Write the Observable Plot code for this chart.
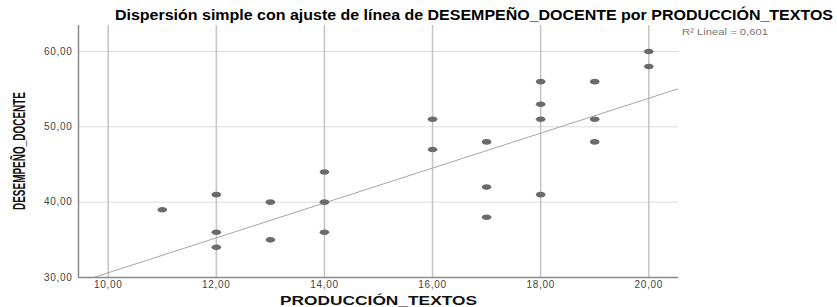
<!DOCTYPE html>
<html>
<head>
<meta charset="utf-8">
<script src="https://cdn.jsdelivr.net/npm/d3@7"></script>
<script src="https://cdn.jsdelivr.net/npm/@observablehq/plot@0.6"></script>
<style>
  html, body { margin: 0; padding: 0; background: #fff; }
</style>
</head>
<body>
<div id="chart"></div>
<script>
// Data
const produccionTextos = [11, 12, 12, 12, 13, 13, 14, 14, 14, 16, 16, 17, 17, 17, 18, 18, 18, 18, 19, 19, 19, 20, 20];
const desempenoDocente = [39, 41, 36, 34, 40, 35, 44, 40, 36, 51, 47, 48, 42, 38, 56, 53, 51, 41, 56, 51, 48, 60, 58];
const xTicks = [10, 12, 14, 16, 18, 20];
const yTicks = [30, 40, 50, 60];
const xDomain = [9.45, 20.55];
const yDomain = [30, 63.45];
// Fit line (R² Lineal = 0,601)
const fitIntercept = 7.47;
const fitSlope = 2.316;
const r2Label = "R² Lineal = 0,601";
const titleText = "Dispersión simple con ajuste de línea de DESEMPEÑO_DOCENTE por PRODUCCIÓN_TEXTOS";
const xLabel = "PRODUCCIÓN_TEXTOS";
const yLabel = "DESEMPEÑO_DOCENTE";

const points = produccionTextos.map((x, i) => ({x, y: desempenoDocente[i]}));
const fitLine = xDomain.map(x => ({x, y: fitIntercept + fitSlope * x}));
const fmt = d => d3.format(".2f")(d).replace(".", ",");

const ellipse = {
  draw(ctx) {
    const rx = 4.8, ry = 2.8, k = 0.5523;
    ctx.moveTo(rx, 0);
    ctx.bezierCurveTo(rx, ry * k, rx * k, ry, 0, ry);
    ctx.bezierCurveTo(-rx * k, ry, -rx, ry * k, -rx, 0);
    ctx.bezierCurveTo(-rx, -ry * k, -rx * k, -ry, 0, -ry);
    ctx.bezierCurveTo(rx * k, -ry, rx, -ry * k, rx, 0);
    ctx.closePath();
  }
};

const chart = Plot.plot({
  width: 837,
  height: 307,
  marginLeft: 78,
  marginRight: 159,
  marginTop: 25,
  marginBottom: 30,
  style: {fontFamily: "'Liberation Sans', Arial, sans-serif", background: "#fff"},
  x: {domain: xDomain, label: null},
  y: {domain: yDomain, label: null},
  marks: [
    Plot.gridY(yTicks.filter(d => d > yDomain[0]), {stroke: "#dcdcdc", strokeOpacity: 1, strokeWidth: 1}),
    Plot.gridX(xTicks, {stroke: "#c6c6c6", strokeOpacity: 1, strokeWidth: 1.6}),
    Plot.ruleX([xDomain[0]], {stroke: "#8a8a8a", strokeWidth: 1.5}),
    Plot.ruleY([yDomain[0]], {stroke: "#8a8a8a", strokeWidth: 1.5}),
    Plot.line(fitLine, {x: "x", y: "y", stroke: "#a6a6a6", strokeWidth: 1, clip: true}),
    Plot.dot(points, {x: "x", y: "y", symbol: ellipse, fill: "#6b6b6b", stroke: "none", r: 3}),
    Plot.axisX(xTicks, {tickSize: 0, tickPadding: 3, tickFormat: fmt, fontSize: 10, fill: "#444", label: null}),
    Plot.axisY(yTicks, {tickSize: 0, tickPadding: 6, tickFormat: fmt, fontSize: 10, fill: "#444", label: null})
  ]
});
document.getElementById("chart").appendChild(chart);

const svg = d3.select(chart);
svg.selectAll('[aria-label$="tick label"] text').attr("letter-spacing", "0.7px");
svg.append("text")
  .attr("x", 115).attr("y", 20)
  .attr("text-anchor", "start")
  .attr("textLength", 718).attr("lengthAdjust", "spacingAndGlyphs")
  .style("font", "bold 14px 'Liberation Sans', Arial, sans-serif")
  .attr("fill", "#000")
  .text(titleText);
svg.append("text")
  .attr("x", 682).attr("y", 35)
  .attr("text-anchor", "start")
  .attr("textLength", 86).attr("lengthAdjust", "spacingAndGlyphs")
  .style("font", "9px 'Liberation Sans', Arial, sans-serif")
  .attr("fill", "#777")
  .text(r2Label);
svg.append("text")
  .attr("x", 378.5).attr("y", 305)
  .attr("text-anchor", "middle")
  .attr("textLength", 197).attr("lengthAdjust", "spacingAndGlyphs")
  .style("font", "bold 13px 'Liberation Sans', Arial, sans-serif")
  .attr("fill", "#111")
  .text(xLabel);
svg.append("text")
  .attr("transform", "translate(25,151) rotate(-90)")
  .attr("text-anchor", "middle")
  .attr("textLength", 118).attr("lengthAdjust", "spacingAndGlyphs")
  .style("font", "bold 16px 'Liberation Sans Narrow', 'Liberation Sans', Arial, sans-serif")
  .attr("fill", "#111")
  .text(yLabel);
</script>
</body>
</html>
